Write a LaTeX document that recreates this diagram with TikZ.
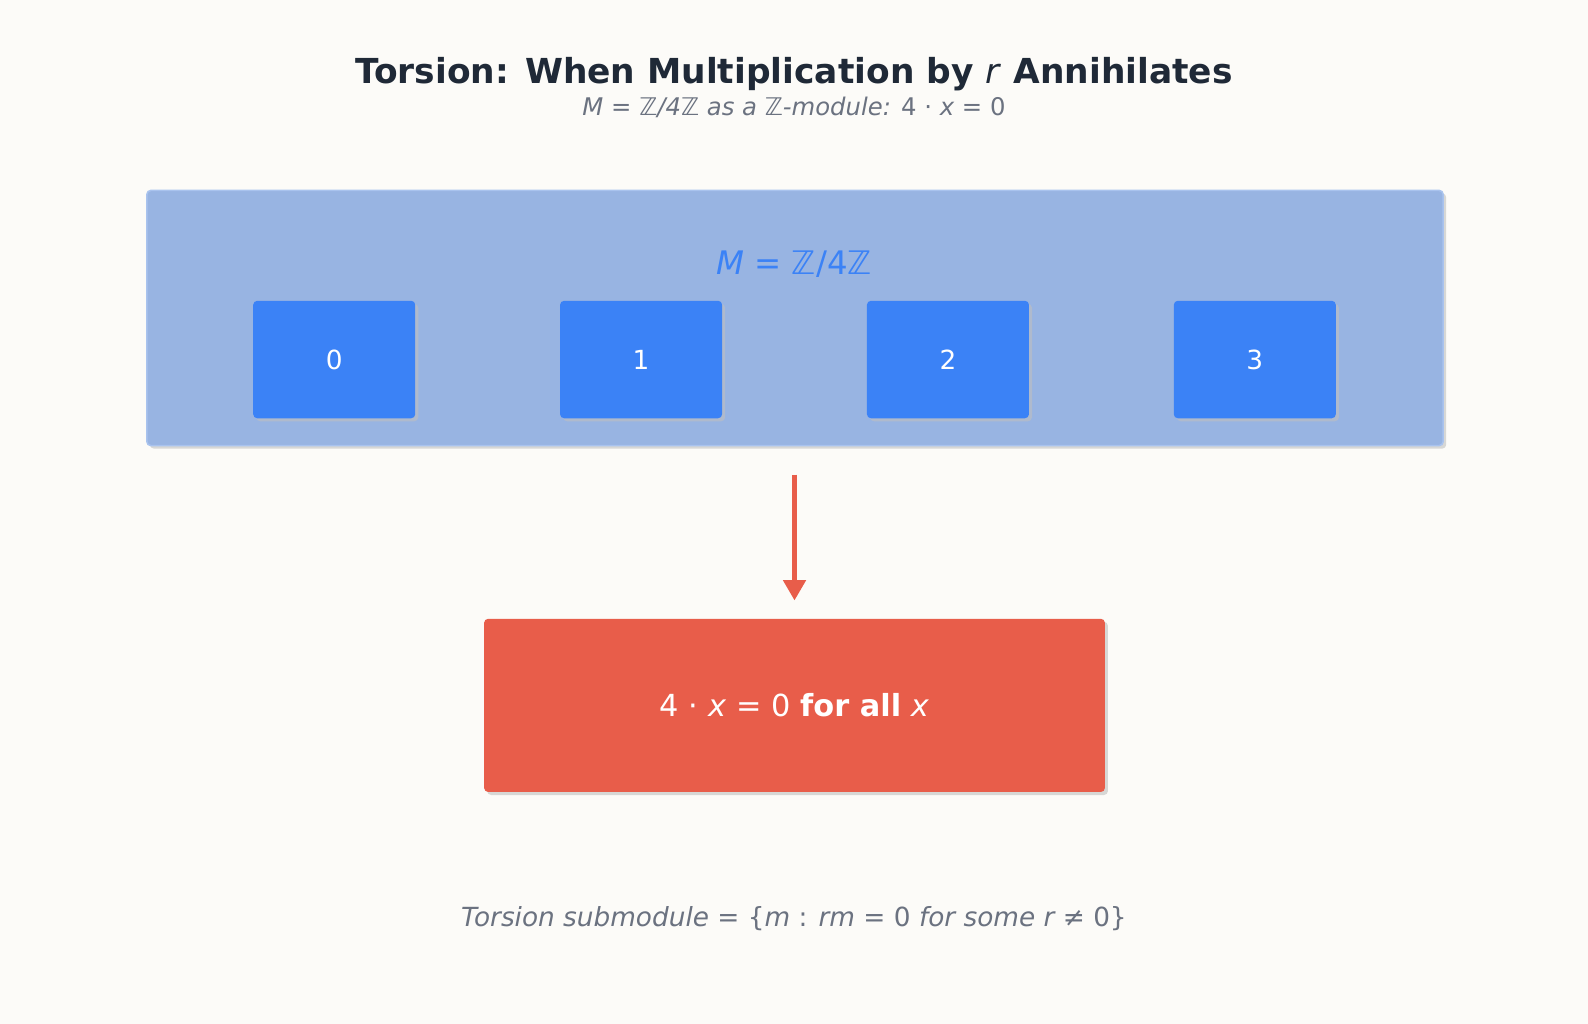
\documentclass[tikz,border=0pt]{standalone}
\usepackage{fontspec}
\setmainfont{DejaVu Sans}
\usetikzlibrary{arrows.meta}
\definecolor{bg}{HTML}{FCFBF8}
\definecolor{titlec}{HTML}{1F2937}
\definecolor{greyt}{HTML}{6B7280}
\definecolor{panel}{HTML}{98B4E2}
\definecolor{panelb}{HTML}{A9C3EE}
\definecolor{blue}{HTML}{3B82F6}
\definecolor{redc}{HTML}{E85D4A}
\tikzset{
 elem/.style={fill=blue,rounded corners=4pt,minimum width=160pt,minimum height=116pt,text=white,font=\fontsize{26}{30}\selectfont},
 shadowed/.style={preaction={fill=black!25,opacity=0.6,transform canvas={shift={(3pt,-3pt)}}}},
}
\begin{document}
\begin{tikzpicture}[x=1pt,y=-1pt]
\fill[bg] (0,0) rectangle (1568,1011);
\useasboundingbox (0,0) rectangle (1568,1011);
\node[font=\bfseries\fontsize{34}{40}\selectfont,text=titlec] (title) at (784,73) {Torsion: When Multiplication by \textit{\mdseries r}\/ Annihilates};
\node[font=\itshape\fontsize{24}{28}\selectfont,text=greyt] (sub) at (784,106) {M = ℤ/4ℤ as a ℤ-module: \upshape 4 · \itshape x\upshape{} = 0};
\node[shadowed,fill=panel,draw=panelb,line width=1.5pt,rounded corners=4pt,minimum width=1280pt,minimum height=252pt] (panel) at (785,314) {};
\node[font=\fontsize{32}{38}\selectfont,text=blue] (plabel) at (784,261) {\textit{M}\/ = ℤ/4ℤ};
\foreach \i/\x in {0/330,1/633,2/936,3/1239}{
  \node[elem,shadowed] (e\i) at (\x,355) {\i};
}
\node[shadowed,fill=redc,rounded corners=4pt,minimum width=613pt,minimum height=171pt,text=white,font=\fontsize{30}{36}\selectfont] (res) at (784.5,696.5) {4 · \textit{x}\/ = 0 \textbf{for all} \textit{x}};
\draw[redc,line width=4pt,-{Triangle[length=20pt,width=22pt]},shorten <=28pt,shorten >=18pt] (panel.south -| res.north) -- (res.north);
\node[font=\itshape\fontsize{26}{30}\selectfont,text=greyt] (foot) at (784,907) {Torsion submodule = \upshape\{\itshape m\upshape{} : \itshape rm\upshape{} = 0 \itshape for some r\upshape{} ≠ 0\}};
\end{tikzpicture}
\end{document}
